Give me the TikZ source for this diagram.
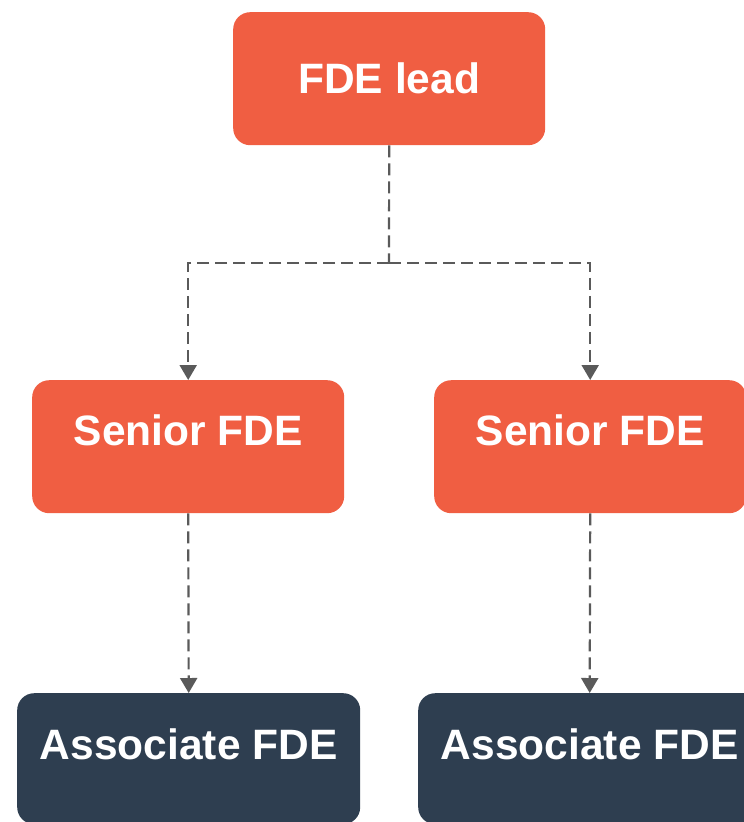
\documentclass[tikz,border=0pt]{standalone}
\usepackage{fontspec}
\setmainfont{Liberation Sans}
\usetikzlibrary{arrows.meta}
\definecolor{boxorange}{HTML}{F05E42}
\definecolor{boxnavy}{HTML}{2E3E50}
\definecolor{linkgray}{HTML}{5A5A5A}
\tikzset{
  rolebox/.style={draw=none, rounded corners=17pt, inner xsep=0pt, inner ysep=0pt,
    anchor=north west, text=white, font=\fontsize{42.5}{50}\selectfont\bfseries},
  leadbox/.style={rolebox, fill=boxorange, minimum width=312pt, text height=81.5pt, text depth=51.5pt},
  seniorbox/.style={rolebox, fill=boxorange, minimum width=312pt, text height=65.5pt, text depth=67.5pt},
  assocbox/.style={rolebox, fill=boxnavy, minimum width=343pt, text height=66pt, text depth=65pt},
  link/.style={draw=linkgray, line width=2.2pt, dash pattern=on 12pt off 6pt,
    -{Triangle[width=17pt,length=15pt]}},
  linkplain/.style={draw=linkgray, line width=2.2pt, dash pattern=on 12pt off 6pt}
}
\begin{document}
\begin{tikzpicture}[x=1pt,y=-1pt]
\useasboundingbox (0,0) rectangle (744,822);
\node[leadbox] (lead) at (233,12) {FDE lead};
\node[seniorbox] (s1) at (32,380) {Senior FDE};
\node[seniorbox] (s2) at (434,380) {Senior FDE};
\node[assocbox] (a1) at (17,693) {Associate FDE};
\node[assocbox] (a2) at (418,693) {Associate FDE};
\coordinate (j) at (389,263);
\draw[linkplain] (lead.south) -- (j);
\draw[link] (j) -| (s1.north);
\draw[link] (j) -| (s2.north);
\draw[link] (s1.south) -- (a1.north);
\draw[link] (s2.south) -- (a2.north);
\end{tikzpicture}
\end{document}
